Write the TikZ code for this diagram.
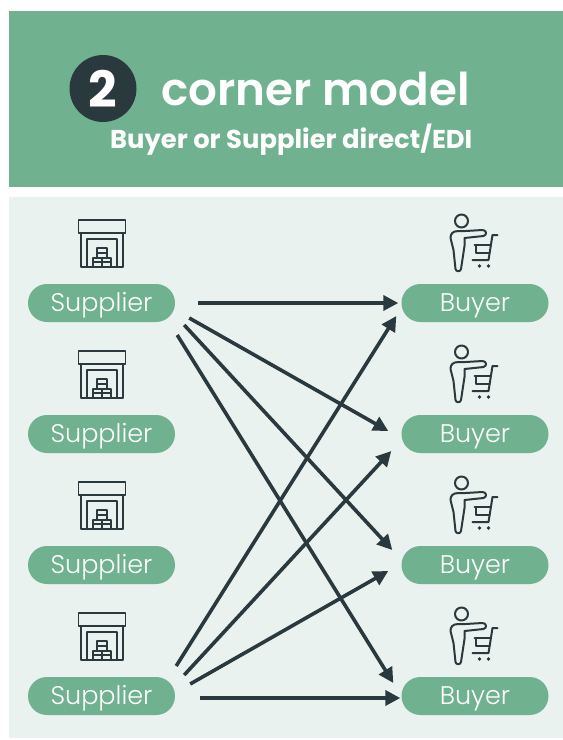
\documentclass[tikz,border=0pt]{standalone}
\usepackage{fontspec}
\setmainfont{Poppins}
\newfontfamily\lightfont{Poppins Light}
\newfontfamily\medfont{Poppins SemiBold}
\usetikzlibrary{arrows.meta}
\definecolor{hdr}{HTML}{70B28F}
\definecolor{panel}{HTML}{E9F2EE}
\definecolor{ink}{HTML}{2A393D}
\tikzset{
  pill/.style={fill=hdr,rounded corners=18.9pt,minimum width=147pt,minimum height=38pt,inner sep=0pt,text height=27pt,text depth=11pt,text=white,font=\lightfont\fontsize{25.5}{28}\selectfont},
  link/.style={draw=ink,line width=3.6pt,-{Triangle[length=15pt,width=15pt]}},
  icon/.style={draw=ink,line width=1.5pt,line join=round,line cap=round},
  usericon/.style={draw=ink,line width=2pt,line join=round,line cap=round},
  warehouse/.pic={
    \draw[icon] (-23.5,0) rectangle (23.5,13);
    \draw[icon] (-21,13) -- (-21,47) -- (21,47) -- (21,13);
    \draw[icon] (-15,47) -- (-15,19) -- (15,19) -- (15,47);
    \draw[icon] (-5,38) -- (-5,28) -- (5,28) -- (5,38);
    \draw[icon] (-5,33) -- (5,33);
    \draw[icon] (-9,47) -- (-9,38) -- (9,38) -- (9,47);
    \draw[icon] (0,38) -- (0,47);
    \draw[icon] (-9,42) -- (9,42);
  },
  shopper/.pic={
    \draw[usericon] (0,0) circle (6.5);
    \draw[usericon] (-3,10) .. controls (-9,10) and (-11,13) .. (-11,17) -- (-8,29) -- (-6,48) .. controls (-5.5,51) and (-1,51) .. (-.5,48) -- (3,25) -- (3,17) -- (22,15) .. controls (26,14) and (25,9) .. (21,9) -- (4,10) -- (-3,10);
    \draw[usericon] (36,14) -- (31,14) -- (27,39) -- (11,39);
    \draw[usericon] (13,24) -- (29,24);
    \draw[usericon] (14,24) -- (14,32) -- (28,32);
    \fill[ink] (18,45) circle (1.8) (27,45) circle (1.8);
  }
}
\begin{document}
\begin{tikzpicture}[x=1pt,y=-1pt]
\useasboundingbox (0,0) rectangle (563,740);
\fill[white] (0,0) rectangle (563,740);
\fill[hdr] (8.5,11) rectangle (563,186.5);
\fill[panel] (8.5,197) rectangle (563,738);
\node[circle,fill=ink,minimum size=67pt,inner sep=0pt,text=white,font=\fontsize{50}{52}\bfseries\selectfont] (badge) at (103,88.5) {2};
\node[anchor=base west,inner sep=0pt,text=white,font=\medfont\fontsize{45.2}{47}\selectfont] (title) at (161,105.5) {corner model};
\node[anchor=base west,inner sep=0pt,text=white,font=\fontsize{25.8}{28}\selectfont\bfseries] (subtitle) at (110,148) {Buyer or Supplier direct/EDI};
\foreach \n/\y in {1/303,2/434,3/565,4/696}{
  \node[pill] (s\n) at (101.5,\y) {Supplier};
  \node[pill] (b\n) at (475,\y) {Buyer};
  \pic at (102,\y-83) {warehouse};
  \pic at (461.5,\y-82) {shopper};
}
\draw[link] ([shift={(23,0)}]s1.east) -- ([shift={(-3,0)}]b1.west);
\draw[link] ([shift={(14,15)}]s1.east) -- ([shift={(-13,-3)}]b2.west);
\draw[link] ([shift={(9,22)}]s1.east) -- ([shift={(-9,-15)}]b3.west);
\draw[link] ([shift={(2,32)}]s1.east) -- ([shift={(-8,-13)}]b4.west);
\draw[link] ([shift={(1,-30)}]s4.east) -- ([shift={(-5,13)}]b1.west);
\draw[link] ([shift={(9,-21)}]s4.east) -- ([shift={(-10,17)}]b2.west);
\draw[link] ([shift={(15,-12)}]s4.east) -- ([shift={(-13,6)}]b3.west);
\draw[link] ([shift={(25,2)}]s4.east) -- ([shift={(-1,2)}]b4.west);
\end{tikzpicture}
\end{document}
